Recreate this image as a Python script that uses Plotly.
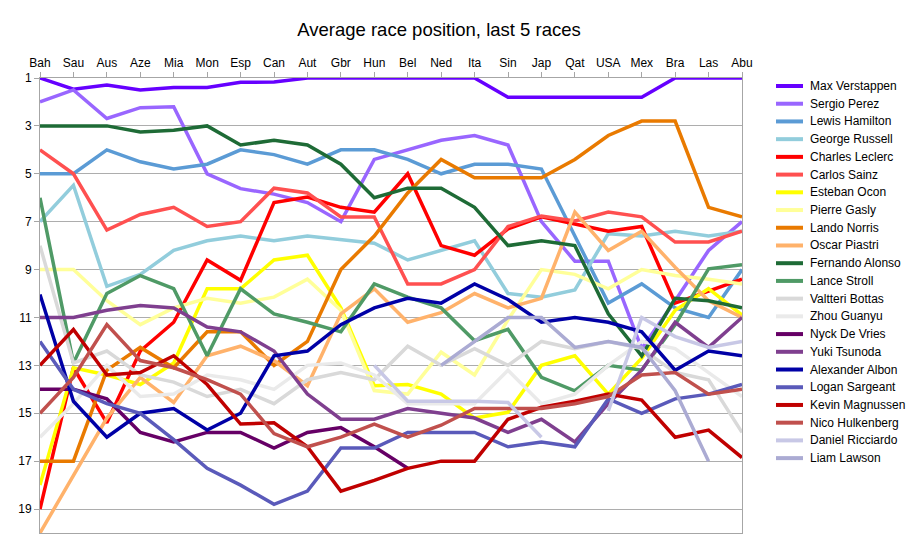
import plotly.graph_objects as go

races = ["Bah","Sau","Aus","Aze","Mia","Mon","Esp","Can","Aut","Gbr","Hun","Bel","Ned","Ita","Sin","Jap","Qat","USA","Mex","Bra","Las","Abu"]

drivers = ["Max Verstappen","Sergio Perez","Lewis Hamilton","George Russell","Charles Leclerc","Carlos Sainz",
           "Esteban Ocon","Pierre Gasly","Lando Norris","Oscar Piastri","Fernando Alonso","Lance Stroll",
           "Valtteri Bottas","Zhou Guanyu","Nyck De Vries","Yuki Tsunoda","Alexander Albon","Logan Sargeant",
           "Kevin Magnussen","Nico Hulkenberg","Daniel Ricciardo","Liam Lawson"]

verstappen = [1,1.47,1.29,1.5,1.4,1.4,1.18,1.17,1,1,1,1,1,1,1.8,1.8,1.8,1.8,1.8,1,1,1]
perez = [2,1.5,2.69,2.24,2.2,5,5.62,5.85,6.2,7.0,4.4,4.0,3.6,3.4,3.8,7.0,8.65,8.65,12.3,10.3,8.2,7.0]
hamilton = [5,5,4,4.5,4.8,4.6,4,4.2,4.6,4,4,4.4,5,4.6,4.6,4.8,7.6,10.4,9.6,10.6,11.0,9.0]
russell = [7,5.48,9.7,9.2,8.2,7.8,7.6,7.8,7.6,7.75,7.9,8.6,8.2,7.8,10.0,10.15,9.85,7.5,7.6,7.4,7.6,7.4]
leclerc = [19,13.1,15.4,12.4,11.2,8.6,9.45,6.2,5.97,6.4,6.6,5.0,8.0,8.4,7.3,6.8,7.1,7.4,7.2,10.4,9.9,9.4]
sainz = [4,5,7.35,6.7,6.4,7.2,7.0,5.6,5.8,6.8,6.8,9.6,9.6,9.0,7.2,6.76,6.97,6.6,6.8,7.85,7.85,7.4]
ocon = [18,13.1,13.4,13.8,12.9,9.8,9.8,8.6,8.4,10.6,13.85,13.8,14.2,15.2,14.96,13.0,12.6,14.2,12.7,10.7,9.8,10.9]
gasly = [9,9,10.3,11.3,10.6,10.2,10.4,10.15,9.4,10.7,14.05,14.2,12.45,13.4,11.1,9.0,9.2,9.8,9.0,9.25,9.4,9.6]
norris = [17,17,13.2,12.25,13.1,11.6,11.6,13.0,12.0,9.0,7.6,5.8,4.4,5.17,5.17,5.17,4.4,3.4,2.8,2.8,6.4,6.8]
piastri = [20,17.6,15.2,13.5,14.55,12.6,12.2,12.8,13.85,10.85,9.8,11.2,10.8,10.0,10.6,10.2,6.6,8.2,7.4,8.9,10.3,11.0]
alonso = [3,3,3,3.25,3.18,3.0,3.8,3.6,3.8,4.6,6.0,5.6,5.6,6.4,8.0,7.8,8.0,10.85,12.6,10.2,10.3,10.6]
stroll = [6,12.9,10.0,9.25,9.8,12.6,9.8,10.85,11.2,11.6,9.6,10.15,10.6,11.97,11.5,13.5,14.06,13.0,13.2,11.3,8.97,8.8]
bottas = [8,12.9,12.4,13.4,13.7,14.3,14.0,14.6,13.6,13.3,13.6,12.2,13.0,12.3,13.0,12.0,12.3,12.0,12.3,13.3,13.6,15.8]
zhou = [16,14.6,13.0,14.3,14.2,13.4,13.6,14.0,13.0,12.9,13.4,14.6,14.6,14.6,13.2,14.6,14.2,13.0,12.0,12.3,13.3,14.3]
devries = [14,14,14.4,15.8,16.2,15.8,15.8,16.45,15.8,15.6,16.4,17.3,None,None,None,None,None,None,None,None,None,None]
tsunoda = [11,11,10.7,10.5,10.6,11.4,11.6,12.4,14.2,15.25,15.25,14.8,15.0,15.2,15.8,15.25,16.2,14.6,13.2,11.2,12.25,11.0]
albon = [10.04,14.5,16.0,15.0,14.8,15.7,15.0,12.6,12.4,11.3,10.6,10.2,10.4,9.6,10.25,11.2,11.0,11.2,11.6,13.2,12.4,12.6]
sargeant = [12,14,14.6,15.0,16.1,17.3,18.0,18.8,18.25,16.45,16.45,15.8,15.8,15.8,16.4,16.2,16.4,14.4,15.0,14.4,14.2,13.8]
magnussen = [13,11.5,13.4,13.3,12.6,13.8,15.45,15.4,16.4,18.25,17.8,17.3,17.0,17.0,15.25,14.75,14.5,14.2,14.45,16.0,15.7,16.85]
hulkenberg = [15,13.5,11.3,12.8,13.1,13.6,14.2,15.85,16.4,16.0,15.45,16.0,15.5,14.8,14.8,14.8,14.6,14.3,13.4,13.3,14.2,14.0]
ricciardo = [None,None,None,None,None,None,None,None,None,None,13.0,14.5,14.5,14.5,14.55,16.0,None,14.9,11.0,11.8,12.25,12.0]
lawson = [None,None,None,None,None,None,None,None,None,None,None,None,13.0,12.0,11.0,11.0,12.25,12.0,12.25,14.06,17.0,None]

series = [verstappen, perez, hamilton, russell, leclerc, sainz, ocon, gasly, norris, piastri, alonso, stroll,
          bottas, zhou, devries, tsunoda, albon, sargeant, magnussen, hulkenberg, ricciardo, lawson]

colors = ["#6600FF","#9966FF","#5B9BD5","#92CDDC","#FF0000","#FF5050","#FFFF00","#FFFF99","#E97A00","#FFB26B",
          "#1E6B36","#4F9A66","#D9D9D9","#EAEAEA","#660066","#7F3F8F","#0000A6","#5A5ABA","#C00000","#C0504D",
          "#C8C8E6","#ABABD3"]

# figure is placed 8px from the page corner, so size/margins compensate
W, H = 911, 536
ML, MR, MT, MB = 32, 177, 70, 11
PW, PH = W - ML - MR, H - MT - MB

fig = go.Figure()
for name, vals, col in zip(drivers, series, colors):
    fig.add_trace(go.Scatter(x=races, y=vals, name=name, mode="lines",
                             line=dict(color=col, width=3.5), connectgaps=False,
                             showlegend=False))

# hand-built legend (tighter row spacing than plotly's legend allows)
shapes, annots = [], []
leg_x0, leg_x1, leg_tx = 776 - 8, 803 - 8, 808 - 8
leg_y0, leg_dy = 86 - 8, 17.72
for i, (name, col) in enumerate(zip(drivers, colors)):
    py = leg_y0 + i * leg_dy
    yp = (MT + PH - py) / PH
    shapes.append(dict(type="line", xref="paper", yref="paper",
                       x0=(leg_x0 - ML) / PW, x1=(leg_x1 - ML) / PW, y0=yp, y1=yp,
                       line=dict(color=col, width=4)))
    annots.append(dict(text=name, xref="paper", yref="paper", x=(leg_tx - ML) / PW, y=yp,
                       xanchor="left", yanchor="middle", showarrow=False,
                       font=dict(size=12, color="#000000")))

fig.update_layout(
    width=W, height=H,
    margin=dict(l=ML, r=MR, t=MT, b=MB, autoexpand=False),
    paper_bgcolor="white", plot_bgcolor="white",
    font=dict(family="Liberation Sans, Arial, sans-serif", size=12, color="#000000"),
    title=dict(text="Average race position, last 5 races", x=431 / W, xref="container", xanchor="center",
               y=1 - 22 / H, yref="container", yanchor="middle",
               font=dict(size=18.5, color="#000000")),
    showlegend=False,
    shapes=shapes, annotations=annots,
)
fig.update_xaxes(side="top", type="category", range=[0, 21], showgrid=False,
                 showline=True, linecolor="#A6A6A6", linewidth=1, mirror=True,
                 ticks="outside", ticklen=5, tickcolor="#A6A6A6", tickfont=dict(size=12))
fig.update_yaxes(range=[20, 1], tickvals=[1,3,5,7,9,11,13,15,17,19], showgrid=True,
                 gridcolor="#ADADAD", gridwidth=1, zeroline=False,
                 showline=True, linecolor="#A6A6A6", linewidth=1, mirror=True,
                 ticks="outside", ticklen=5, tickcolor="#A6A6A6", tickfont=dict(size=12))

fig.write_html("out.html")
